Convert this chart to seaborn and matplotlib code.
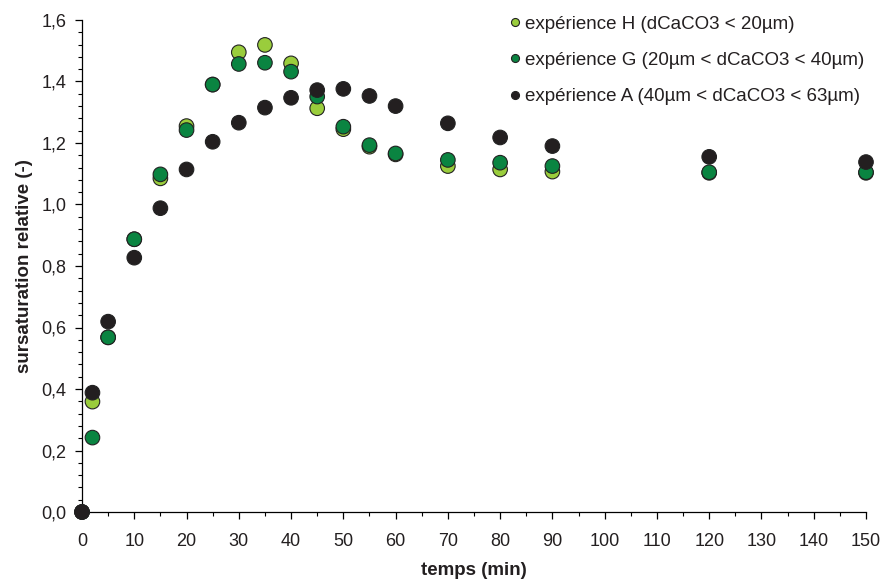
import numpy as np
import pandas as pd
import matplotlib
matplotlib.use("Agg")
import matplotlib.pyplot as plt
from matplotlib.ticker import MultipleLocator, FuncFormatter
import seaborn as sns

temps = [0, 2, 5, 10, 15, 20, 25, 30, 35, 40, 45, 50, 55, 60, 70, 80, 90, 120, 150]
exp_H = [0.0, 0.359, 0.568, 0.887, 1.085, 1.255, 1.39, 1.495, 1.519, 1.459, 1.313,
         1.245, 1.188, 1.163, 1.125, 1.114, 1.107, 1.103, 1.103]
exp_G = [0.0, 0.242, 0.568, 0.887, 1.098, 1.242, 1.39, 1.457, 1.461, 1.432, 1.351,
         1.253, 1.193, 1.166, 1.145, 1.136, 1.125, 1.105, 1.105]
exp_A = [0.0, 0.388, 0.619, 0.827, 0.988, 1.114, 1.204, 1.266, 1.315, 1.347, 1.372,
         1.376, 1.353, 1.32, 1.264, 1.218, 1.19, 1.155, 1.138]

labels = ["expérience H (dCaCO3 < 20µm)",
          "expérience G (20µm < dCaCO3 < 40µm)",
          "expérience A (40µm < dCaCO3 < 63µm)"]
colors = ["#9acd3c", "#0a8441", "#231f20"]

df = pd.concat([
    pd.DataFrame({"temps": temps, "val": v, "serie": lab})
    for v, lab in zip([exp_H, exp_G, exp_A], labels)
], ignore_index=True)

sns.set_theme(style="white")
plt.rcParams["font.family"] = ["Liberation Sans", "DejaVu Sans"]

TXT = "#231f20"
fig = plt.figure(figsize=(8.84, 5.83), dpi=100)
ax = fig.add_axes([82/884, 1-512/583, (866-82)/884, (512-20)/583])

sns.scatterplot(data=df, x="temps", y="val", hue="serie", hue_order=labels,
                palette=colors, s=110, edgecolor="#222222", linewidth=0.8,
                ax=ax, clip_on=False, zorder=3, legend=True)

ax.set_xlim(0, 150)
ax.set_ylim(0, 1.6)
ax.xaxis.set_major_locator(MultipleLocator(10))
ax.xaxis.set_minor_locator(MultipleLocator(5))
ax.yaxis.set_major_locator(MultipleLocator(0.2))
ax.yaxis.set_minor_locator(MultipleLocator(0.04))
ax.yaxis.set_major_formatter(FuncFormatter(lambda v, p: f"{v:.1f}".replace(".", ",")))

for side in ["top", "right"]:
    ax.spines[side].set_visible(False)
for side in ["left", "bottom"]:
    ax.spines[side].set_color("black")
    ax.spines[side].set_linewidth(0.9)

ax.tick_params(which="major", direction="out", length=5, width=0.9, color="black",
               labelsize=13, labelcolor=TXT, left=True, bottom=True)
ax.tick_params(axis="x", which="major", pad=10)
ax.tick_params(axis="y", which="major", pad=6)
ax.tick_params(which="minor", direction="out", length=3, width=0.8, color="black",
               left=True, bottom=True)

ax.set_xlabel("temps (min)", fontsize=13.5, fontweight="bold", color=TXT, labelpad=9)
ax.set_ylabel("sursaturation relative (-)", fontsize=13.5, fontweight="bold", color=TXT, labelpad=6)

handles, labs = ax.get_legend_handles_labels()
leg = ax.legend(handles, labs, loc="upper left", bbox_to_anchor=(0.545, 1.009),
                frameon=False, fontsize=13.5, markerscale=0.55, labelspacing=1.02,
                handletextpad=0.23, handlelength=0.6, borderaxespad=0, borderpad=0)
for t in leg.get_texts():
    t.set_color(TXT)

fig.savefig("out.png", dpi=100)
